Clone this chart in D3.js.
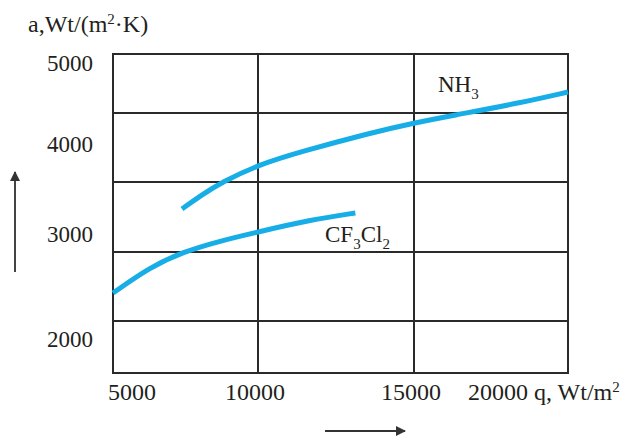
<!DOCTYPE html>
<html>
<head>
<meta charset="utf-8">
<script src="https://cdn.jsdelivr.net/npm/d3@7"></script>
<style>
  body { margin: 0; background: #fff; }
  svg { display: block; font-family: "Liberation Serif", "Times New Roman", serif; }
</style>
</head>
<body>
<div id="graph"></div>
<script>
const w = 627;
const h = 436;

// axis values
const xTicks = [5000, 10000, 15000, 20000];
const yTicks = [2000, 3000, 4000, 5000];
// horizontal grid lines (in a units, the grid is not aligned with the labels)
const yGrid = [5105, 4377, 3572, 2824, 2167, 1671];

// NH3 curve
const nh3Q = [7380, 8000, 8760, 10000, 11350, 13590, 15000, 16170, 18440, 20000];
const nh3A = [3272, 3417, 3572, 3761, 3906, 4130, 4253, 4340, 4500, 4636];

// CF3Cl2 curve
const cfQ = [5000, 6280, 7410, 8690, 10000, 11670, 13120];
const cfA = [2433, 2681, 2824, 2929, 3017, 3150, 3228];

const lineColor = '#17ade6';
const gridColor = '#2a2a2a';

const svg = d3.select('#graph')
              .append('svg')
              .attr('width', w)
              .attr('height', h);

// piecewise scales, the original drawing is not evenly spaced
const xScale = d3.scaleLinear()
                 .domain(xTicks)
                 .range([113, 258, 414, 568]);

const yScale = d3.scaleLinear()
                 .domain(yTicks)
                 .range([338.5, 233.5, 143.5, 62.5]);

const gridTop = yScale(yGrid[0]);
const gridBottom = yScale(yGrid[yGrid.length - 1]);

// grid
const grid = svg.append('g')
                .attr('stroke', gridColor)
                .attr('stroke-width', 2)
                .attr('stroke-linecap', 'square');

grid.selectAll('.vline')
    .data(xTicks)
    .enter()
    .append('line')
    .attr('class', 'vline')
    .attr('x1', d => xScale(d))
    .attr('x2', d => xScale(d))
    .attr('y1', gridTop)
    .attr('y2', gridBottom);

grid.selectAll('.hline')
    .data(yGrid)
    .enter()
    .append('line')
    .attr('class', 'hline')
    .attr('x1', xScale(xTicks[0]))
    .attr('x2', xScale(xTicks[xTicks.length - 1]))
    .attr('y1', d => yScale(d))
    .attr('y2', d => yScale(d));

// curves
const line = d3.line()
               .x(d => xScale(d[0]))
               .y(d => yScale(d[1]))
               .curve(d3.curveBasis);

[[nh3Q, nh3A], [cfQ, cfA]].forEach(s => {
  svg.append('path')
     .datum(d3.zip(s[0], s[1]))
     .attr('d', line)
     .attr('fill', 'none')
     .attr('stroke', lineColor)
     .attr('stroke-width', 5);
});

// y tick labels
svg.selectAll('.ylabel')
   .data(yTicks)
   .enter()
   .append('text')
   .attr('class', 'ylabel')
   .attr('x', 93)
   .attr('y', d => yScale(d))
   .attr('dy', '0.35em')
   .attr('text-anchor', 'end')
   .style('font-size', '23px')
   .attr('fill', '#231f20')
   .text(d => d);

// x tick labels, shifted like in the original
const xShift = [{dx: -5, anchor: 'start'}, {dx: -3, anchor: 'middle'}, {dx: -3, anchor: 'middle'}, {dx: -100, anchor: 'start'}];
svg.selectAll('.xlabel')
   .data(xTicks)
   .enter()
   .append('text')
   .attr('class', 'xlabel')
   .attr('x', (d, i) => xScale(d) + xShift[i].dx)
   .attr('y', gridBottom + 27)
   .attr('text-anchor', (d, i) => xShift[i].anchor)
   .style('font-size', '24px')
   .attr('fill', '#231f20')
   .each(function(d, i) {
     const t = d3.select(this);
     t.append('tspan').text(d);
     if (i === xTicks.length - 1) {
       t.append('tspan').text(' q, Wt/m');
       t.append('tspan').attr('dy', -8).style('font-size', '15px').text('2');
     }
   });

// y axis title
const yTitle = svg.append('text')
                  .attr('x', 28)
                  .attr('y', 32)
                  .style('font-size', '24px')
                  .attr('fill', '#231f20');
yTitle.append('tspan').text('a,Wt/(m');
yTitle.append('tspan').attr('dy', -8).style('font-size', '15px').text('2');
yTitle.append('tspan').attr('dy', 8).text('·K)');

// curve labels
function chemLabel(x, y, parts) {
  const t = svg.append('text')
               .attr('x', x)
               .attr('y', y)
               .style('font-size', '23px')
               .attr('fill', '#231f20');
  parts.forEach(p => {
    if (p.sub) {
      t.append('tspan').attr('dy', 7).style('font-size', '15px').text(p.s);
    } else {
      t.append('tspan').attr('dy', p.back ? -7 : 0).text(p.s);
    }
  });
}
chemLabel(438, 92, [{s: 'NH'}, {s: '3', sub: true}]);
chemLabel(325, 242, [{s: 'CF'}, {s: '3', sub: true}, {s: 'Cl', back: true}, {s: '2', sub: true}]);

// direction arrows
svg.append('defs')
   .append('marker')
   .attr('id', 'arrow')
   .attr('viewBox', '0 0 10 10')
   .attr('refX', 9)
   .attr('refY', 5)
   .attr('markerWidth', 6)
   .attr('markerHeight', 5)
   .attr('markerUnits', 'strokeWidth')
   .attr('orient', 'auto')
   .append('path')
   .attr('d', 'M0,0 L10,5 L0,10 Z')
   .attr('fill', '#333');

svg.append('line')
   .attr('x1', 15).attr('y1', 272)
   .attr('x2', 15).attr('y2', 172)
   .attr('stroke', '#444')
   .attr('stroke-width', 2)
   .attr('marker-end', 'url(#arrow)');

svg.append('line')
   .attr('x1', 325).attr('y1', 431)
   .attr('x2', 405).attr('y2', 431)
   .attr('stroke', '#333')
   .attr('stroke-width', 2)
   .attr('marker-end', 'url(#arrow)');
</script>
</body>
</html>
